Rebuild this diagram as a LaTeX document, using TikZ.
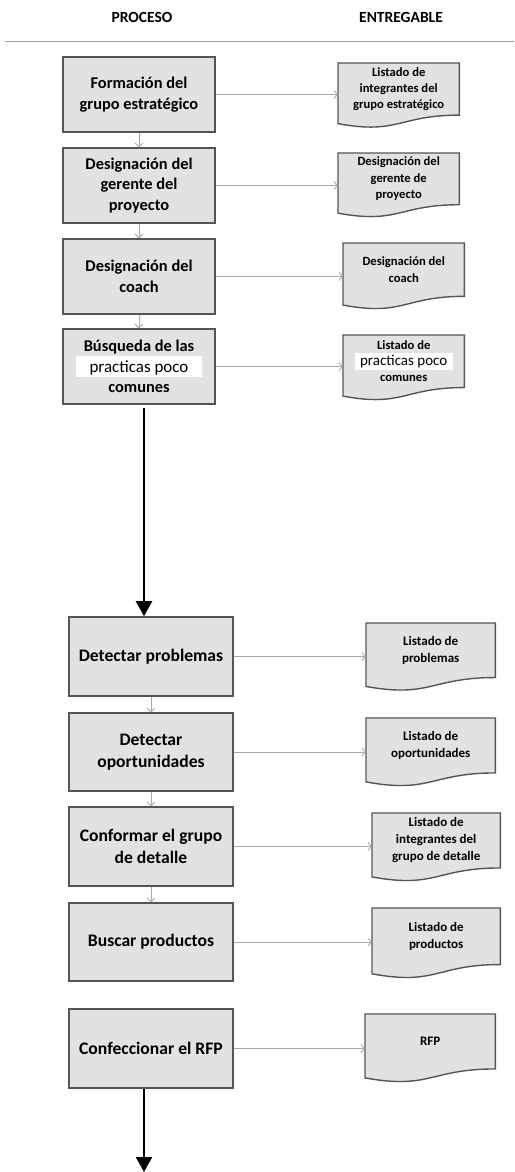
\documentclass[tikz,border=0pt]{standalone}
\usepackage{fontspec}
\setmainfont{Carlito}
\usetikzlibrary{arrows.meta,calc}
\pgfdeclarelayer{background}
\pgfsetlayers{background,main}
\definecolor{boxfill}{HTML}{E2E2E2}
\definecolor{boxline}{HTML}{555555}
\definecolor{linkgray}{HTML}{A8A8A8}
\definecolor{rulegray}{HTML}{A0A0A0}

% white band behind a single line of text (width, depth, height, text)
\newcommand\hilite[4]{\makebox[0pt]{\smash{\setlength{\fboxsep}{0pt}\colorbox{white}{\makebox[#1]{\rule[-#2]{0pt}{#3}#4}}}}}

\tikzset{
  procbox/.style={draw=boxline, line width=1.6pt, fill=boxfill, align=center, inner sep=2pt,
    font=\fontsize{16.4}{20.5}\selectfont\bfseries},
  procboxb/.style={procbox, font=\fontsize{17.6}{21.7}\selectfont\bfseries},
  doctext/.style={align=center, inner sep=0pt, font=\fontsize{12.6}{16.3}\selectfont\bfseries},
  doctextb/.style={doctext, font=\fontsize{13}{17}\selectfont\bfseries},
  docline/.style={draw=boxline, line width=1.4pt, fill=boxfill},
  flow/.style={draw=linkgray, line width=0.9pt, -{Straight Barb[length=3.5pt,width=8pt]}},
  bigflow/.style={draw=black, line width=2.3pt, -{Triangle[length=15pt,width=16pt]}},
  head/.style={font=\fontsize{15.5}{17}\selectfont\bfseries}
}

% document symbol: style, name, left x, top y, width, full height, text
\newcommand\docnode[7]{%
  \pgfmathsetmacro\dH{0.802*#6}%
  \pgfmathsetmacro\dA{0.305*#6}%
  \pgfmathsetmacro\dB{0.132*#6}%
  \node[#1, minimum width=#5pt, minimum height=\dH pt, anchor=north west] (#2) at (#3,#4) {#7};
  \begin{pgfonlayer}{background}
    \draw[docline] (#2.north west) -- (#2.north east) -- (#2.south east)
      .. controls (#2.south) and ([yshift=-\dA pt]#2.south) .. ([yshift=-\dB pt]#2.south west) -- cycle;
  \end{pgfonlayer}
}

\begin{document}
\begin{tikzpicture}[x=1pt, y=-1pt]
\useasboundingbox (0,0) rectangle (514,1172);

% column headings
\node[head] (hp) at (142,17) {PROCESO};
\node[head] (he) at (401,17) {ENTREGABLE};
\coordinate (rl) at (5,41.5);
\coordinate (rr) at (514,41.5);
\draw[rulegray, line width=1.2pt] (rl) -- (rr);

% first block of steps
\node[procbox, minimum width=152pt, minimum height=75pt] (b1) at (139,94.5) {Formación del\\grupo estratégico};
\node[procbox, minimum width=152pt, minimum height=75pt] (b2) at (139,185.5) {Designación del\\gerente del\\proyecto};
\node[procbox, minimum width=152pt, minimum height=75pt] (b3) at (139,276.5) {Designación del\\coach};
\node[procbox, minimum width=152pt, minimum height=75pt] (b4) at (139,366.5)
  {Búsqueda de las\\\hilite{126pt}{5pt}{21pt}{\mdseries\fontsize{17}{20.5}\selectfont practicas poco}\\comunes};

\docnode{doctext}{d1}{338}{63}{121}{64.5}{Listado de\\integrantes del\\grupo estratégico}
\docnode{doctext}{d2}{338}{153}{121}{64}{Designación del\\gerente de\\proyecto}
\docnode{doctext}{d3}{343}{243}{121}{66}{Designación del\\coach}
\docnode{doctext}{d4}{343}{335}{121}{65}
  {Listado de\\\hilite{98pt}{4pt}{17pt}{\mdseries\fontsize{15}{16}\selectfont practicas poco}\\comunes}

% second block of steps
\node[procboxb, minimum width=164pt, minimum height=79pt] (b5) at (151,656.5) {Detectar problemas};
\node[procboxb, minimum width=164pt, minimum height=78pt] (b6) at (151,752) {Detectar\\oportunidades};
\node[procboxb, minimum width=164pt, minimum height=79pt] (b7) at (151,846.5) {Conformar el grupo\\de detalle};
\node[procboxb, minimum width=164pt, minimum height=78pt] (b8) at (151,942) {Buscar productos};
\node[procboxb, minimum width=164pt, minimum height=79pt] (b9) at (151,1048.5) {Confeccionar el RFP};

\docnode{doctextb}{d5}{366}{623}{129}{67.5}{Listado de\\problemas}
\docnode{doctextb}{d6}{366}{718}{129}{68}{Listado de\\oportunidades}
\docnode{doctextb}{d7}{372}{813}{128}{68}{Listado de\\integrantes del\\grupo de detalle}
\docnode{doctextb}{d8}{372}{908}{128}{70}{Listado de\\productos}
\docnode{doctextb}{d9}{365}{1014}{130}{68}{RFP}

% step to step
\draw[flow] (b1) -- (b2);
\draw[flow] (b2) -- (b3);
\draw[flow] (b3) -- (b4);
\draw[flow] (b5) -- (b6);
\draw[flow] (b6) -- (b7);
\draw[flow] (b7) -- (b8);

% step to deliverable
\foreach \i in {1,...,9}{
  \draw[flow] (b\i.east) -- (b\i.east -| d\i.west);
}

% links between the blocks
\coordinate (t1) at (144,408);
\draw[bigflow] (t1) -- (t1 |- b5.north);
\coordinate (t2) at (144,1172);
\draw[bigflow] (t2 |- b9.south) -- (t2);
\end{tikzpicture}
\end{document}
